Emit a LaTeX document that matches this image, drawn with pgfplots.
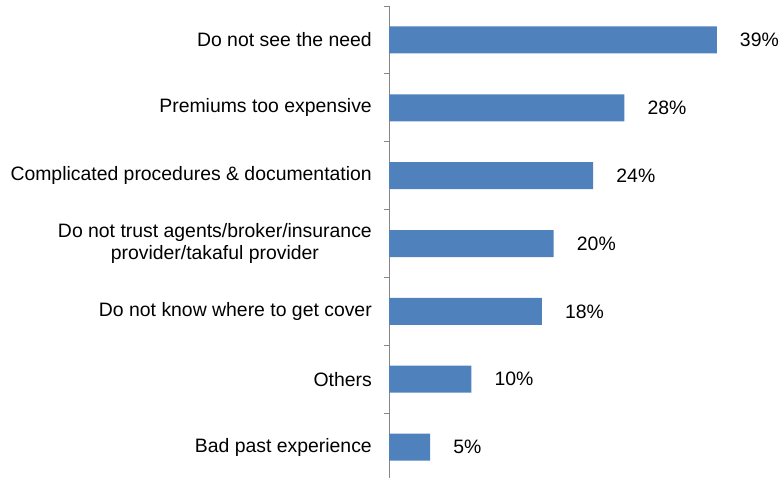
\documentclass[border=0pt]{standalone}
\usepackage{fontspec}
\setmainfont{Liberation Sans}
\usepackage{pgfplots}
\pgfplotsset{compat=1.18}
\definecolor{barblue}{HTML}{4F81BD}
\definecolor{axisgray}{HTML}{868686}
\begin{document}
\fontsize{19.4}{21.5}\selectfont
\begin{tikzpicture}
\useasboundingbox (0,0) rectangle (783pt,478pt);
\begin{axis}[
  at={(389pt,-3pt)}, anchor=south west,
  scale only axis, width=378.2pt, height=475pt,
  xmin=0, xmax=45,
  ymin=-0.5, ymax=6.5, y dir=reverse,
  axis x line=none,
  axis y line*=left,
  y axis line style={draw=axisgray, line width=1pt},
  xbar, bar width=27pt,
  ytick={0,1,2,3,4,5,6},
  yticklabels={Do not see the need, Premiums too expensive, Complicated procedures \& documentation, {Do not trust agents/broker/insurance\\provider/takaful provider}, Do not know where to get cover, Others, Bad past experience},
  yticklabel style={align=center, inner sep=0pt, xshift=-17pt, font=\fontsize{19.4}{21.5}\selectfont},
  major tick length=0pt,
  minor ytick={-0.5,0.5,1.5,2.5,3.5,4.5,5.5,6.5},
  minor tick length=5pt,
  tick align=outside,
  minor tick style={draw=axisgray, line width=1pt},
  clip=false,
  /pgf/number format/assume math mode=true,
  nodes near coords={\pgfmathprintnumber[fixed,precision=0]{\pgfplotspointmeta}\%},
  every node near coord/.append style={anchor=west, inner sep=0pt, xshift=23pt, font=\fontsize{19.4}{21.5}\selectfont, text=black},
]
\addplot[fill=barblue, draw=none] coordinates {
  (39.0,0) (28.0,1) (24.3,2) (19.6,3) (18.2,4) (9.8,5) (4.9,6)
};
\end{axis}
\end{tikzpicture}
\end{document}
